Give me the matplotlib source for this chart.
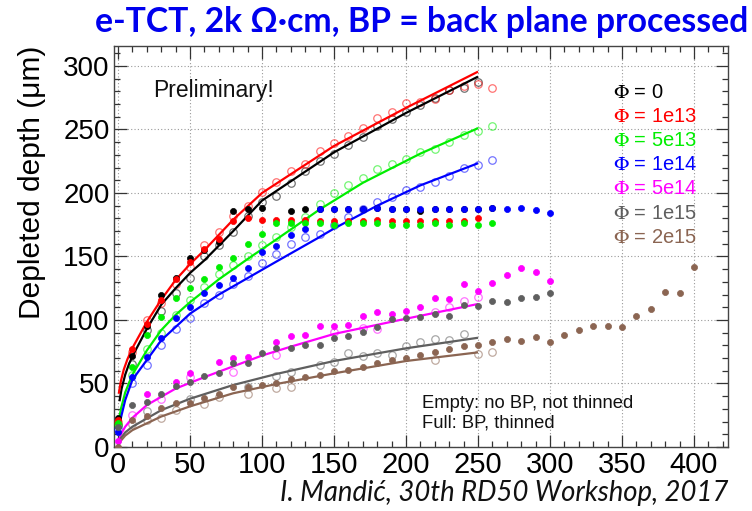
import matplotlib
matplotlib.use("Agg")
import matplotlib.pyplot as plt
from matplotlib.ticker import MultipleLocator

plt.rcParams['mathtext.fontset'] = 'stix'

# ---------------- data (bias voltage [V] vs depleted depth [um]) ----------------
# Phi = 0 (black)
phi0_bp_x = [0, 10, 20, 30, 40, 50, 60, 70, 80, 90, 100, 120, 130, 140, 150, 160, 170, 180, 190, 200, 210, 220, 230, 240, 250, 260]
phi0_bp_y = [23, 72, 95, 120, 133, 149, 155, 161, 186, 187, 188, 186, 187, 187, 187, 187, 187, 188, 187, 187, 186, 187, 187, 187, 187, 188]
phi0_nobp_x = [0, 10, 20, 30, 40, 50, 60, 70, 80, 90, 100, 110, 120, 130, 140, 150, 160, 170, 180, 190, 200, 210, 220, 230, 240, 250]
phi0_nobp_y = [17, 65, 92, 107, 121, 133, 150, 159, 169, 182, 193, 198, 208, 217, 225, 231, 238, 244, 253, 258, 264, 269, 275, 281, 283, 287]
phi0_fit_x = [1, 2.5, 5, 7.5, 10, 20, 30, 40, 50, 60, 80, 100, 150, 200, 250]
phi0_fit_y = [36, 46, 57, 65, 71.5, 93, 112, 125, 137, 147, 170, 194, 232, 263, 291.6]

# Phi = 1e13 (red)
phi1_bp_x = [0, 10, 20, 30, 40, 50, 60, 70, 80, 90, 100, 110, 120, 130, 140, 150, 160, 170, 180, 190, 200, 210, 220, 230, 240, 250]
phi1_bp_y = [21, 77, 97, 116, 132, 146, 156, 164, 178, 180, 179, 179, 179, 179, 178, 178, 178, 178, 179, 178, 178, 178, 178, 178, 178, 180]
phi1_nobp_x = [0, 10, 20, 30, 40, 50, 60, 70, 80, 90, 100, 110, 120, 130, 140, 150, 160, 170, 180, 190, 200, 210, 220, 230, 240, 250, 260]
phi1_nobp_y = [20, 75, 100, 113, 128, 142, 159, 169, 182, 190, 201, 209, 217, 223, 233, 239, 245, 251, 259, 264, 271, 272, 274, 281, 284, 286, 283]
phi1_fit_x = [0.5, 2, 4, 6.5, 10, 20, 30, 40, 50, 60, 80, 100, 150, 200, 250]
phi1_fit_y = [42, 52, 61, 69, 78, 98.5, 116, 131.5, 144, 155, 179, 200, 237, 267, 295.5]

# Phi = 5e13 (green)
phi2_bp_x = [0, 10, 20, 30, 40, 50, 60, 70, 80, 90, 100, 110, 120, 130, 140, 150, 160, 170, 180, 190, 200, 210, 220, 230, 240, 250, 260]
phi2_bp_y = [19, 63, 88, 102, 117, 125, 132, 142, 149, 160, 168, 176, 176, 176, 176, 175, 176, 176, 176, 175, 175, 175, 176, 175, 176, 175, 176]
phi2_nobp_x = [0, 10, 20, 30, 40, 50, 60, 70, 80, 90, 100, 110, 120, 130, 140, 150, 160, 170, 180, 190, 200, 210, 220, 230, 240, 250, 260]
phi2_nobp_y = [17, 57, 77, 90, 104, 116, 126, 136, 143, 150, 159, 165, 173, 181, 191, 200, 206, 212, 219, 223, 227, 232, 235, 240, 246, 249, 253]
phi2_fit_x = [0.3, 2, 5, 10, 20, 30, 40, 50, 70, 90, 112, 140, 170, 210, 250]
phi2_fit_y = [19, 30, 43, 57, 76, 92, 104, 114, 132, 148, 165, 187, 208, 231, 251]

# Phi = 1e14 (blue)
phi3_bp_x = [0, 10, 20, 30, 40, 50, 60, 70, 80, 90, 100, 110, 120, 130, 140, 150, 160, 170, 180, 190, 200, 210, 220, 230, 240, 250, 260, 270, 280, 290, 300]
phi3_bp_y = [11.5, 55.5, 70.5, 86, 101.5, 110, 121.5, 127.6, 133.3, 140.7, 153.3, 158.3, 167, 172, 187, 187, 187, 187, 188, 187, 187, 187, 187, 187, 187, 187, 188, 187, 188.5, 186.6, 184]
phi3_nobp_x = [0, 10, 20, 30, 40, 50, 60, 70, 80, 90, 100, 110, 120, 130, 140, 150, 160, 170, 180, 190, 200, 210, 220, 230, 240, 250, 260]
phi3_nobp_y = [14, 50, 64.6, 80, 93, 101.5, 113, 120, 128, 135, 144.6, 152, 160, 165, 168, 174.8, 181, 187, 193, 197, 202.5, 204.7, 208.7, 213.2, 219.4, 222, 226]
phi3_fit_x = [0.3, 2, 5, 10, 30, 50, 70, 90, 110, 138, 150, 180, 210, 250]
phi3_fit_y = [12, 23, 37, 53, 84, 105, 120, 133, 146, 164, 172, 190, 206, 223.4]

# Phi = 5e14 (magenta)
phi4_bp_x = [0, 20, 40, 50, 70, 80, 90, 110, 120, 130, 140, 150, 160, 170, 180, 190, 200, 210, 220, 230, 240, 250, 260, 270, 280, 290, 300]
phi4_bp_y = [5, 41.5, 51.4, 58.5, 67.2, 69.8, 70.6, 82.4, 87.4, 88.2, 95, 95.5, 96, 103, 106.5, 104.5, 107, 110.5, 117, 116.3, 128.3, 123, 129.4, 135.4, 141.2, 137.5, 130.7]
phi4_nobp_x = [10, 30, 50, 80, 110, 150, 170, 180, 220, 230, 240, 250]
phi4_nobp_y = [25, 38, 55, 59.3, 72.5, 90.7, 93.6, 92.6, 106.4, 110.2, 114.8, 118.3]
phi4_fit_x = [0, 2, 5, 10, 20, 40, 60, 80, 100, 120, 150, 200, 250]
phi4_fit_y = [3, 10, 16, 23, 33, 46, 55, 63.5, 72, 79, 89, 101, 112.6]

# Phi = 1e15 (gray)
phi5_bp_x = [0, 10, 20, 30, 40, 50, 60, 70, 80, 90, 100, 110, 120, 130, 140, 150, 160, 170, 180, 190, 200, 210, 220, 230, 240, 250, 260, 270, 280, 290, 300]
phi5_bp_y = [16, 33, 35.2, 41.5, 48, 51.4, 56, 58.5, 66.5, 66.5, 74.3, 77.7, 77.7, 80.4, 80.4, 86, 87.7, 90.4, 94.3, 100.5, 101.3, 102, 104.8, 103.3, 111.5, 111.2, 115.2, 114.4, 117, 118.3, 120.9]
phi5_nobp_x = [20, 50, 90, 110, 120, 140, 150, 160, 170, 180, 190, 200, 210, 220, 230, 240]
phi5_nobp_y = [28, 38, 47.5, 56, 59, 64.6, 67.2, 73.8, 71.7, 74.3, 72.5, 79.6, 83, 85, 84.3, 88.7]
phi5_fit_x = [0, 2, 5, 10, 30, 50, 80, 110, 150, 200, 250]
phi5_fit_y = [1.5, 7, 11.5, 16, 29, 38, 48.8, 57.5, 67.7, 77.7, 86]

# Phi = 2e15 (brown)
phi6_bp_x = [0, 10, 20, 30, 40, 50, 60, 70, 80, 90, 100, 110, 120, 130, 140, 150, 160, 170, 180, 190, 200,
             210, 220, 230, 240, 250, 260, 270, 280, 290, 300, 310, 320, 330, 340, 350, 360, 370, 380, 390, 400]
phi6_bp_y = [0, 21, 24.4, 30.5, 34.4, 35, 38.3, 42, 47, 47.5, 48.8, 50, 53.5, 55, 56.5, 60, 61, 63.2, 66.3, 68.5, 69.8,
             72.4, 74.5, 77.1, 79.7, 80.2, 82.4, 85, 83.5, 86.4, 82.4, 88.2, 92.1, 95.5, 95.5, 94.7, 103.1, 108.7, 121.8, 121.5, 141.5]
phi6_nobp_x = [10, 20, 30, 40, 60, 70, 90, 110, 120, 220, 250, 260]
phi6_nobp_y = [18, 21, 22.6, 29, 34, 39.6, 41.7, 46.5, 47, 68.4, 73.2, 74.5]
phi6_fit_x = [0, 2, 5, 10, 30, 50, 80, 110, 150, 200, 250]
phi6_fit_y = [0.5, 5, 9, 13.3, 24, 32, 42.3, 49.6, 58, 67.7, 74.5]

legend_labels = ['0', '1e13', '5e13', '1e14', '5e14', '1e15', '2e15']
colors = ['#000000', '#ff0000', '#00ee00', '#0000ff', '#ff00ff', '#5f5f5f', '#8b6552']

series = [
    (phi0_bp_x, phi0_bp_y, phi0_nobp_x, phi0_nobp_y, phi0_fit_x, phi0_fit_y),
    (phi1_bp_x, phi1_bp_y, phi1_nobp_x, phi1_nobp_y, phi1_fit_x, phi1_fit_y),
    (phi2_bp_x, phi2_bp_y, phi2_nobp_x, phi2_nobp_y, phi2_fit_x, phi2_fit_y),
    (phi3_bp_x, phi3_bp_y, phi3_nobp_x, phi3_nobp_y, phi3_fit_x, phi3_fit_y),
    (phi4_bp_x, phi4_bp_y, phi4_nobp_x, phi4_nobp_y, phi4_fit_x, phi4_fit_y),
    (phi5_bp_x, phi5_bp_y, phi5_nobp_x, phi5_nobp_y, phi5_fit_x, phi5_fit_y),
    (phi6_bp_x, phi6_bp_y, phi6_nobp_x, phi6_nobp_y, phi6_fit_x, phi6_fit_y),
]

# ---------------- figure ----------------
W, H = 752, 511
fig = plt.figure(figsize=(W / 100, H / 100), dpi=100)
ax_l, ax_r, ax_t, ax_b = 114, 728, 46, 447
ax = fig.add_axes([ax_l / W, 1 - ax_b / H, (ax_r - ax_l) / W, (ax_b - ax_t) / H])

sans = ['Liberation Sans', 'DejaVu Sans']

for (bx, by, nx, ny, fx, fy), c in zip(series, colors):
    ax.plot(nx, ny, linestyle='none', marker='o', markersize=5.4, markerfacecolor='none',
            markeredgecolor=c, markeredgewidth=0.9, alpha=0.55, zorder=3)
    ax.plot(fx, fy, color=c, linewidth=1.6, zorder=4, solid_capstyle='butt', solid_joinstyle='round')
    ax.plot(bx, by, linestyle='none', marker='o', markersize=4.4, markerfacecolor=c,
            markeredgecolor=c, markeredgewidth=0.5, zorder=5)

ax.set_xlim(-2.8, 423.6)
ax.set_ylim(0, 315.7)
ax.xaxis.set_major_locator(MultipleLocator(50))
ax.xaxis.set_minor_locator(MultipleLocator(10))
ax.yaxis.set_major_locator(MultipleLocator(50))
ax.yaxis.set_minor_locator(MultipleLocator(10))
ax.tick_params(which='both', direction='in', top=True, right=True, color='#333333', width=0.9)
ax.tick_params(which='major', length=9)
ax.tick_params(which='minor', length=4.5)
ax.tick_params(axis='x', which='major', labelsize=21, pad=3)
ax.tick_params(axis='y', which='major', labelsize=20, pad=3)
for lab in ax.get_xticklabels() + ax.get_yticklabels():
    lab.set_family(sans)
ax.grid(True, which='major', linestyle=(0, (1, 2)), color='#9a9a9a', linewidth=0.8, zorder=0)
ax.set_axisbelow(True)
for s in ax.spines.values():
    s.set_color('#444444')
    s.set_linewidth(1.0)

def afr(px, py):
    return ((px - ax_l) / (ax_r - ax_l), (ax_b - py) / (ax_b - ax_t))

# y axis title (aligned to the top end of the axis)
ax.text(*afr(31.7, 46), 'Depleted depth (μm)', rotation=90, ha='center', va='top',
        fontsize=21.5, family=sans, transform=ax.transAxes)

ax.text(*afr(153, 90), 'Preliminary!', ha='left', va='center', fontsize=16.5,
        family=sans, transform=ax.transAxes, color='#111111')

leg_y = [93, 117, 141, 165, 189, 213, 237]
for lab, c, py in zip(legend_labels, colors, leg_y):
    ax.text(*afr(613, py), r'$\Phi$ = ' + lab, ha='left', va='center', fontsize=14.5,
            family=sans, color=c, transform=ax.transAxes)

ax.text(*afr(422, 403), 'Empty: no BP, not thinned', ha='left', va='center', fontsize=13.2,
        family=sans, color='#111111', transform=ax.transAxes)
ax.text(*afr(422, 423), 'Full: BP, thinned', ha='left', va='center', fontsize=13.2,
        family=sans, color='#111111', transform=ax.transAxes)

# title and credit, sized to the reference widths
title = fig.text(748 / W, 1 - 22 / H, 'e-TCT, 2k Ω·cm, BP = back plane processed',
                 ha='right', va='center', fontsize=24, fontweight='bold', color='#0000ee',
                 family=['Lato', 'Noto Sans', 'DejaVu Sans'])
credit = fig.text(728 / W, 1 - 493 / H, 'I. Mandić, 30th RD50 Workshop, 2017',
                  ha='right', va='center', fontsize=16, fontstyle='italic', color='#111111',
                  family=['Lato', 'Noto Sans', 'DejaVu Sans'])
fig.canvas.draw()
r = fig.canvas.get_renderer()
for t, target in ((title, 652), (credit, 449)):
    w = t.get_window_extent(r).width
    t.set_fontsize(t.get_fontsize() * target / w)

fig.savefig('out.png', dpi=100)
